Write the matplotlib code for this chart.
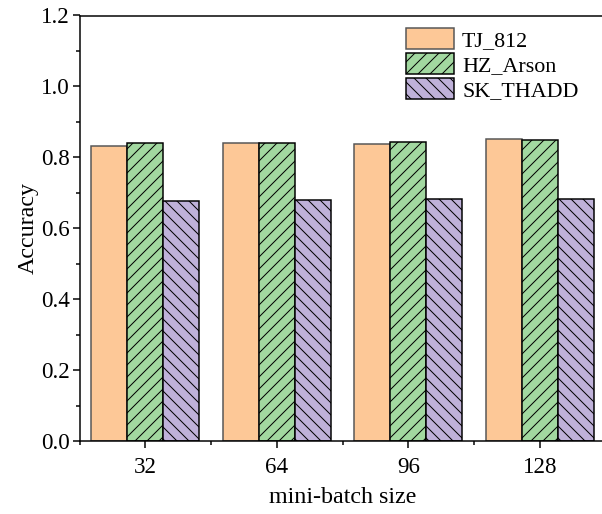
import matplotlib
matplotlib.use('Agg')
import matplotlib.pyplot as plt
import numpy as np
from matplotlib.ticker import MultipleLocator, FormatStrFormatter

DPI = 72

batch_sizes = ['32', '64', '96', '128']
series_names = ['TJ_812', 'HZ_Arson', 'SK_THADD']
tj_812 = [0.833, 0.840, 0.839, 0.852]
hz_arson = [0.840, 0.840, 0.844, 0.849]
sk_thadd = [0.677, 0.679, 0.683, 0.683]

plt.rcParams['font.family'] = ['Liberation Serif', 'DejaVu Serif']
plt.rcParams['hatch.linewidth'] = 1.0

fig = plt.figure(figsize=(602 / DPI, 514 / DPI), dpi=DPI)
ax = fig.add_axes([79.5 / 602, 73 / 514, 4 * 131.5 / 602, 425.5 / 514])

x = np.arange(len(batch_sizes))
width = 0.274

ax.bar(x - width, tj_812, width, color='#FDC897', edgecolor='#555555',
       linewidth=1.5, label=series_names[0])
ax.bar(x, hz_arson, width, color='#A2D8A0', edgecolor='black',
       linewidth=1.5, hatch='//', label=series_names[1])
ax.bar(x + width, sk_thadd, width, color='#BFB1D9', edgecolor='black',
       linewidth=1.5, hatch='\\\\', label=series_names[2])

ax.set_xlim(-0.5, 3.5)
ax.set_ylim(0, 1.2)
ax.set_xticks(x)
ax.set_xticklabels(batch_sizes)
ax.xaxis.set_minor_locator(MultipleLocator(1, offset=0.5))
ax.yaxis.set_major_locator(MultipleLocator(0.2))
ax.yaxis.set_minor_locator(MultipleLocator(0.1))
ax.yaxis.set_major_formatter(FormatStrFormatter('%.1f'))

ax.tick_params(which='major', direction='out', length=7, width=1.5,
               labelsize=23, pad=3)
ax.tick_params(which='minor', direction='out', length=4, width=1.5)
ax.tick_params(axis='x', which='major', pad=9)

for side in ['left', 'bottom', 'top']:
    ax.spines[side].set_linewidth(1.5)
ax.spines['right'].set_visible(False)

ax.set_xlabel('mini-batch size', fontsize=24, labelpad=9)
ax.set_ylabel('Accuracy', fontsize=24, labelpad=2)

ax.legend(loc='upper left', bbox_to_anchor=(406 / 602, 1 - 28 / 514),
          bbox_transform=fig.transFigure, frameon=False,
          fontsize=22, handlelength=2.2, handleheight=1.1,
          labelspacing=0.08, handletextpad=0.35, borderaxespad=0,
          borderpad=0)

fig.savefig('out.png', dpi=DPI)
